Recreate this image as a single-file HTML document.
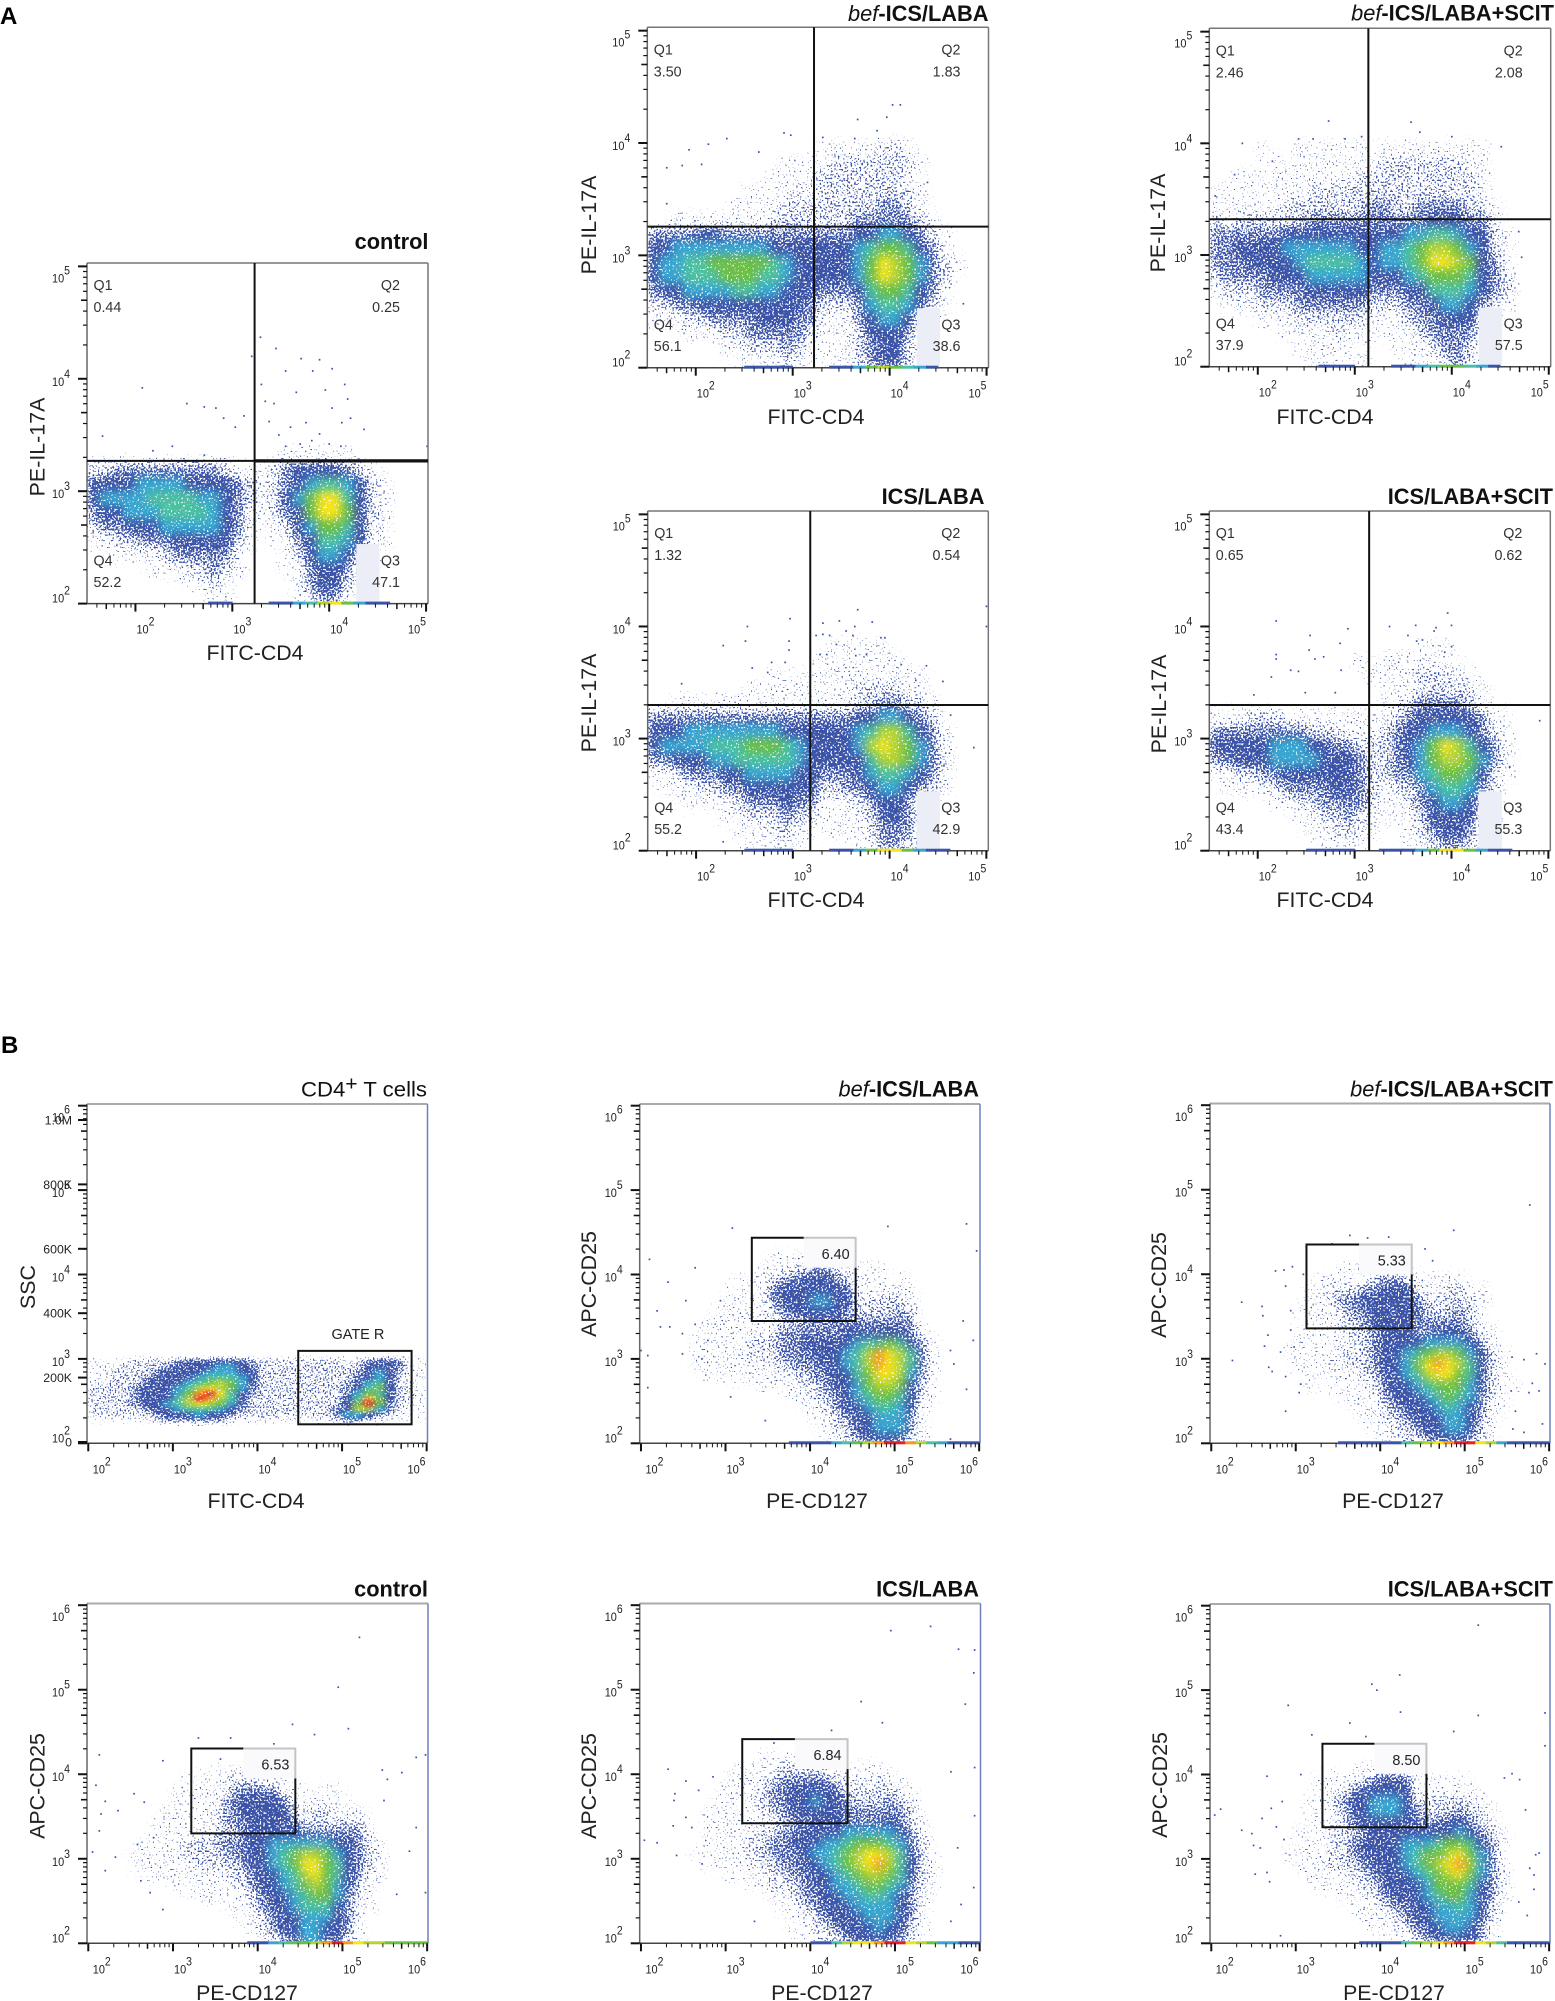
<!DOCTYPE html>
<html lang="en">
<head>
<meta charset="utf-8">
<title>Flow cytometry density plots</title>
<style>
html,body{margin:0;padding:0;background:#fff;}
svg{display:block;}
text{font-family:"Liberation Sans",sans-serif;fill:#222;}
</style>
</head>
<body>
<svg id="figure" xmlns="http://www.w3.org/2000/svg" width="1555" height="2001" viewBox="0 0 1555 2001">
<defs>
<filter id="grain" x="-5%" y="-5%" width="110%" height="110%" color-interpolation-filters="sRGB">
<feGaussianBlur in="SourceGraphic" stdDeviation="4.5" result="soft"/>
<feTurbulence type="fractalNoise" baseFrequency="0.55" numOctaves="1" seed="7" result="noise"/>
<feDisplacementMap in="soft" in2="noise" scale="8" xChannelSelector="R" yChannelSelector="G" result="moved"/>
<feColorMatrix in="moved" values="0 0 0 0 0 0 0 0 0 0 0 0 0 0 0 0 0 0 1 0" result="movedAlpha"/>
<feColorMatrix in="noise" values="0 0 0 0 0 0 0 0 0 0 0 0 0 0 0 0 0 1 0 0" result="noiseAlpha"/>
<feComposite in="movedAlpha" in2="noiseAlpha" operator="arithmetic" k1="0" k2="1" k3="2.6" k4="-1.8" result="sum"/>
<feComponentTransfer in="sum" result="mask"><feFuncA type="linear" slope="6"/></feComponentTransfer>
<feColorMatrix in="moved" values="1 0 0 0 0 0 1 0 0 0 0 0 1 0 0 0 0 0 30 0" result="solid"/>
<feComposite in="solid" in2="mask" operator="in"/>
</filter>
<filter id="grainFine" x="-5%" y="-5%" width="110%" height="110%" color-interpolation-filters="sRGB">
<feGaussianBlur in="SourceGraphic" stdDeviation="3.4 2" result="soft"/>
<feTurbulence type="fractalNoise" baseFrequency="0.6" numOctaves="1" seed="11" result="noise"/>
<feDisplacementMap in="soft" in2="noise" scale="4" xChannelSelector="R" yChannelSelector="G" result="moved"/>
<feColorMatrix in="moved" values="0 0 0 0 0 0 0 0 0 0 0 0 0 0 0 0 0 0 1 0" result="movedAlpha"/>
<feColorMatrix in="noise" values="0 0 0 0 0 0 0 0 0 0 0 0 0 0 0 0 0 1 0 0" result="noiseAlpha"/>
<feComposite in="movedAlpha" in2="noiseAlpha" operator="arithmetic" k1="0" k2="1" k3="2.6" k4="-1.8" result="sum"/>
<feComponentTransfer in="sum" result="mask"><feFuncA type="linear" slope="6"/></feComponentTransfer>
<feColorMatrix in="moved" values="1 0 0 0 0 0 1 0 0 0 0 0 1 0 0 0 0 0 30 0" result="solid"/>
<feComposite in="solid" in2="mask" operator="in"/>
</filter>
</defs>
<text x="0" y="24" font-size="24" font-weight="bold" style="fill:#000">A</text>
<text x="1" y="1053" font-size="24" font-weight="bold" style="fill:#000">B</text>
</svg>
<script>
// All data values are in log10 units of the plotted fluorescence intensity.
// Density rows run from the top of the grid downward; each number is a density level (0 = empty, 11 = peak).
const minorMultipliers = [2,3,4,5,6,7,8,9];
const xDecadesA = [2,3,4,5];
const yDecadesA = [2,3,4,5];
const xDecadesB = [2,3,4,5,6];
const yDecadesB = [2,3,4,5,6];
const sscValues = [0,200,400,600,800,1000];
const sscLabels = ["0","200K","400K","600K","800K","1.0M"];

const statsControlA = ["0.44","0.25","47.1","52.2"];
const statsBefA = ["3.50","1.83","38.6","56.1"];
const statsBefScitA = ["2.46","2.08","57.5","37.9"];
const statsIcsA = ["1.32","0.54","42.9","55.2"];
const statsIcsScitA = ["0.65","0.62","55.3","43.4"];

const quadControlA = [3.23,3.27];
const quadBefA = [3.22,3.256];
const quadBefScitA = [3.14,3.32];
const quadIcsA = [3.18,3.30];
const quadIcsScitA = [3.15,3.30];

const densityControlA = [
[],
[],
[],
[],
[],
[0,0,0,0,0,0,0,0,0,0,0,0,0,0,0,0,1,1,1,1,1,1],
[2,2,3,3,3,3,3,3,3,3,3,2,1,1,1,2,3,4,4,4,4,3,2,1],
[4,4,4,4,5,5,5,5,4,4,4,4,3,2,1,2,3,4,5,6,6,5,4,2,1],
[4,5,5,5,5,6,6,6,6,5,5,4,3,2,1,2,4,5,7,9,9,6,4,2,1],
[3,4,4,5,5,5,6,6,6,6,5,4,3,1,1,2,3,4,7,9,9,7,4,2,1],
[2,3,3,4,4,4,5,5,5,5,5,4,3,1,0,1,2,4,5,7,7,6,4,2,1],
[1,1,2,2,3,3,3,4,4,4,4,4,2,1,0,1,1,3,4,6,6,5,4,1,1],
[0,0,1,1,1,1,2,3,3,3,3,3,1,0,0,0,1,2,4,5,5,4,2,1],
[0,0,0,0,0,1,1,1,2,2,3,2,1,0,0,0,1,1,3,4,4,3,1,1],
[0,0,0,0,0,0,0,0,1,1,2,1,0,0,0,0,0,1,3,4,4,2,1],
[0,0,0,0,0,0,0,0,0,0,1,1,0,0,0,0,0,1,2,3,3,1]
];
const densityBefA = [
[0,0,0,0,0,0,0,0,0,0,0,0,0,0,1,1,1,1,1,2,2,1],
[0,0,0,0,0,0,0,0,0,0,0,1,1,1,1,2,2,2,2,2,2,2,1],
[0,0,0,0,0,0,0,0,0,0,1,1,1,1,2,2,2,2,2,2,2,1],
[0,0,0,0,0,0,0,0,1,1,1,1,2,1,2,2,2,2,2,2,2,2,1],
[0,0,0,0,0,0,0,1,1,1,1,2,2,2,2,2,2,2,2,3,3,2,1],
[0,0,1,1,1,1,1,1,1,1,2,2,2,2,2,2,2,3,3,3,3,3,2,1],
[3,3,3,3,4,4,3,3,3,3,3,3,3,3,3,3,3,4,4,5,5,4,3,2,1],
[4,4,5,5,5,5,5,5,5,5,4,4,4,4,4,4,4,5,6,7,7,6,4,3,1],
[4,5,5,6,6,7,7,7,7,7,6,5,4,4,4,4,4,5,7,9,8,7,5,3,2,1],
[4,5,5,6,6,6,7,7,7,6,6,5,4,4,4,4,4,5,7,9,8,7,5,3,2],
[3,4,4,5,5,5,5,6,6,5,5,4,4,4,3,3,3,4,6,7,7,6,4,3,1],
[2,2,3,3,4,4,4,4,4,4,4,4,4,3,2,2,2,3,5,6,6,5,4,2,1],
[1,1,1,2,2,3,3,3,3,4,4,4,3,3,1,1,1,3,4,5,5,4,1],
[0,0,0,1,1,1,2,2,3,3,3,3,3,2,1,1,1,2,4,4,4,3,1],
[0,0,0,0,0,0,1,1,2,2,2,3,2,1,1,1,1,2,3,4,4,2,1],
[0,0,0,0,0,0,0,1,1,1,1,2,1,1,0,1,1,2,3,4,4,2,1]
];
const densityBefScitA = [
[0,0,0,0,1,0,0,1,1,1,1,1,1,0,1,1,1,1,1,1,1,1,1],
[0,0,0,0,0,1,1,1,1,1,1,1,1,1,2,2,2,2,2,2,2,1,1],
[0,0,1,1,1,1,1,1,1,1,1,1,2,2,2,2,2,2,2,2,2,2,1],
[1,1,1,1,1,1,1,1,2,2,2,2,2,2,2,2,2,2,2,2,2,2,1],
[1,1,1,1,1,1,2,2,2,2,2,2,2,3,3,2,2,3,3,3,3,2,2,1],
[2,1,2,2,2,2,2,2,3,3,3,3,3,3,3,3,3,3,4,4,4,3,3,1],
[3,3,3,3,3,3,4,4,4,4,4,4,4,4,4,4,5,5,6,6,5,4,4,2,1],
[3,3,4,4,4,4,5,5,5,5,5,5,4,4,5,5,6,7,8,8,7,5,4,2,1],
[3,3,3,4,4,4,4,5,6,6,6,6,5,4,5,5,6,7,9,9,8,7,4,3,1],
[2,3,3,3,3,4,4,4,5,5,5,5,5,4,4,4,5,6,7,7,7,6,4,3,2],
[1,2,2,2,3,3,3,3,4,4,4,4,4,3,3,3,4,4,6,6,6,5,4,3,2],
[0,1,1,1,2,2,2,3,3,3,3,3,3,2,2,2,3,3,4,5,5,4,3,2,1],
[0,0,0,0,1,1,1,2,2,2,2,2,2,1,1,1,2,3,3,4,4,4,1,1],
[0,0,0,0,0,0,1,1,1,1,2,1,1,1,1,1,1,2,3,3,3,3,1],
[0,0,0,0,0,0,0,1,1,1,1,1,1,0,0,1,1,1,2,3,3,2,1],
[0,0,0,0,0,0,0,0,1,1,1,0,1,0,0,0,1,1,1,2,3,2,1]
];
const densityIcsA = [
[],
[0,0,0,0,0,0,0,0,0,0,0,0,0,0,0,1,1,1,1,1],
[0,0,0,0,0,0,0,0,0,0,0,0,0,0,1,1,1,1,1,1,1],
[0,0,0,0,0,0,0,0,0,0,1,0,1,1,1,1,1,1,1,1,1,1,1],
[0,0,0,0,0,0,0,0,1,1,1,1,1,1,1,1,1,2,2,2,2,1,1],
[0,0,1,1,1,1,1,1,1,1,1,1,1,1,1,1,1,2,2,3,3,2,2,1],
[3,3,3,3,3,3,3,3,3,3,3,3,3,3,3,3,3,4,4,5,5,4,3,2],
[4,4,4,5,5,5,5,5,5,5,5,4,4,4,4,4,4,5,6,8,8,6,4,3,1],
[4,5,5,5,5,6,6,6,7,7,7,6,5,4,4,4,4,5,8,9,8,7,5,3,1],
[3,3,4,4,4,5,5,6,6,6,6,6,5,4,4,4,4,4,6,8,8,7,5,3,2],
[1,1,2,3,3,3,4,4,5,5,5,5,4,4,3,3,3,4,5,6,6,5,4,3,1],
[0,1,1,1,2,2,3,3,4,4,4,4,4,4,2,2,3,3,4,5,5,4,3,2,1],
[0,0,0,1,1,1,1,2,3,3,3,4,3,3,1,1,1,2,3,4,4,3,1,1],
[0,0,0,0,0,0,1,1,2,2,2,3,2,2,1,1,1,1,2,4,4,3,1],
[0,0,0,0,0,0,0,1,1,1,2,2,1,1,0,1,1,1,2,3,3,3,1],
[0,0,0,0,0,0,0,0,1,1,1,1,1,0,0,0,0,1,1,3,3,2,1]
];
const densityIcsScitA = [
[],
[0,0,0,0,0,0,0,0,0,0,0,0,0,0,0,0,0,1,1,1],
[0,0,0,0,0,0,0,0,0,0,0,0,1,0,1,1,1,1,1,1,1],
[0,0,0,0,0,0,0,0,0,0,0,0,0,1,1,1,1,2,2,2,1,1],
[0,0,0,0,0,0,0,0,0,0,0,0,0,0,0,1,1,2,2,2,2,2,1],
[0,0,0,0,0,0,0,0,0,0,0,0,0,0,1,1,2,3,3,3,3,2,1],
[1,1,1,2,2,2,1,1,1,1,1,1,1,1,1,2,3,4,4,4,4,4,3,1,1],
[3,3,3,3,3,3,3,3,2,2,2,1,1,1,2,3,4,4,5,5,5,4,3,2,1],
[4,4,4,4,4,5,5,5,4,4,3,3,2,2,2,3,4,5,7,9,8,6,4,3,1],
[3,3,4,4,4,5,5,5,5,4,4,4,3,2,2,3,4,5,7,8,8,7,5,3,1],
[1,1,2,2,3,3,4,4,4,4,4,4,3,2,2,3,3,5,6,7,7,6,4,2,1],
[0,1,1,1,1,2,3,3,3,3,4,4,3,2,1,2,2,3,5,6,6,5,3,2],
[0,0,0,0,0,1,1,2,2,3,3,3,3,2,1,1,2,3,4,5,5,4,2,1],
[0,0,0,0,0,0,0,1,1,2,2,3,2,1,1,1,1,2,4,4,4,4,1,1],
[0,0,0,0,0,0,0,0,1,1,2,2,1,1,0,0,1,2,3,4,4,3,1],
[0,0,0,0,0,0,0,0,0,1,1,1,1,0,0,0,1,1,2,3,3,2,1]
];

const outliersControlA = [[3.29,4.37],[3.45,4.27],[3.2,4.2],[3.71,4.18],[3.9,4.17],[4.03,4.09],[3.83,4.07],[3.55,4.07],[2.07,3.92],[2.53,3.78],[2.71,3.75],[2.83,3.74],[1.66,3.49],[3.12,3.67],[2.91,3.65],[3.03,3.57],[3.34,3.8],[3.43,3.78],[3.66,3.88],[3.96,3.9],[4.16,3.95],[4.19,3.82],[4.03,3.74],[4.22,3.65],[4.13,3.61],[4.36,3.55],[3.76,3.61],[3.6,3.57],[3.9,3.51],[5.01,3.4],[2.71,3.32],[2.38,3.4],[2.18,3.36],[3.3,3.95],[3.38,3.62],[3.48,3.5],[3.82,3.45],[4.0,3.42],[4.12,3.4],[3.7,3.42],[3.55,3.4]];
const outliersBefA = [[4.03,4.34],[4.11,4.34],[3.97,4.23],[3.67,4.21],[2.91,4.09],[2.32,4.04],[2.98,4.07],[2.13,3.99],[3.31,4.05],[3.64,4.04],[3.87,4.11],[1.93,3.94],[2.65,3.92],[1.7,3.78],[1.86,3.8],[2.06,3.81],[1.7,3.46],[4.39,3.65],[4.76,2.57],[4.56,2.86]];
const outliersBefScitA = [[2.73,4.2],[3.58,4.19],[1.84,4.0],[2.42,4.04],[2.57,4.04],[2.9,4.04],[3.07,4.06],[3.67,4.1],[4.0,4.06],[4.51,3.97],[1.76,3.72],[2.15,3.84],[1.56,3.53],[4.69,3.21],[4.72,2.98]];
const outliersIcsA = [[2.97,4.07],[2.53,4.0],[2.28,3.83],[2.51,3.87],[2.96,3.87],[2.96,3.79],[3.67,4.15],[3.48,4.05],[3.31,4.03],[3.82,4.04],[3.64,4.0],[3.55,3.96],[3.62,3.92],[3.91,3.9],[3.95,3.9],[3.31,3.93],[3.24,3.92],[3.38,3.92],[3.45,3.84],[3.35,3.75],[3.28,3.75],[3.65,3.74],[3.76,3.75],[2.78,3.68],[2.92,3.68],[4.38,3.65],[4.12,3.66],[4.27,3.52],[4.55,3.51],[2.58,3.63],[2.74,3.59],[5.0,4.18],[5.0,4.0],[4.87,2.92],[2.28,2.08],[4.63,3.21],[1.85,3.49]];
const outliersIcsScitA = [[2.19,4.05],[3.96,4.12],[4.0,4.01],[3.63,4.01],[3.36,4.0],[3.84,3.99],[3.82,3.96],[2.93,3.98],[2.54,3.92],[2.85,3.85],[2.53,3.79],[2.19,3.75],[2.19,3.71],[2.59,3.71],[2.68,3.73],[3.55,3.92],[3.64,3.87],[3.7,3.88],[4.0,3.82],[3.93,3.77],[2.14,3.55],[2.34,3.61],[2.42,3.6],[1.96,3.39],[2.49,3.41],[2.8,3.41],[2.86,3.61],[4.91,3.16],[4.6,2.75]];

const pileControlA = [0,0,0,0,0,0,0,0,0,0,3,3,0,0,0,3,4,5,6,8,9,7,5,4,3];
const pileBefA = [0,0,0,0,0,0,0,0,3,3,3,3,0,0,0,3,4,5,7,8,7,6,5,4];
const pileBefScitA = [0,0,0,0,0,0,0,0,0,3,3,3,0,0,0,3,4,5,6,7,7,6,5,4];
const pileIcsA = [0,0,0,0,0,0,0,0,3,3,3,3,0,0,0,3,4,5,7,9,9,7,5,4,3];
const pileIcsScitA = [0,0,0,0,0,0,0,0,3,3,3,3,0,0,3,3,4,5,7,9,9,7,5,4,3];

const gateControlB = [3.216,4.444,3.30,4.305];
const gateBefB = [3.311,4.539,3.449,4.435];
const gateBefScitB = [3.127,4.373,3.359,4.352];
const gateIcsB = [3.196,4.44,3.42,4.415];
const gateIcsScitB = [3.316,4.547,3.375,4.364];
const gateCd4R = [4.482,5.822,2.225,3.095];
const gatePercentControlB = "6.53";
const gatePercentBefB = "6.40";
const gatePercentBefScitB = "5.33";
const gatePercentIcsB = "6.84";
const gatePercentIcsScitB = "8.50";

const densityControlB = [
[],
[],
[],
[0,0,0,0,0,0,0,0,0,0,0,0,1,1],
[0,0,0,0,0,0,0,0,0,1,1,1,1,2,2,2,1,1],
[0,0,0,0,0,0,0,0,1,1,1,1,1,2,3,3,3,3,1,1,1,0,1,1],
[0,0,0,0,0,0,0,0,1,1,1,1,2,3,4,4,4,4,3,1,1,1,1,1],
[0,0,0,0,0,0,0,1,1,1,1,1,2,3,4,4,4,4,4,2,1,2,2,1,1,1],
[0,0,0,0,0,0,1,1,1,1,1,1,2,3,3,4,4,4,4,3,2,2,2,2,2,2],
[0,0,0,0,0,0,1,1,1,1,1,1,2,2,3,4,4,4,4,4,3,3,3,3,3,3,1],
[0,0,0,0,0,1,1,1,1,2,2,2,3,3,3,4,4,5,5,5,5,5,5,4,4,3,2,1],
[0,0,0,0,1,1,1,1,1,2,2,2,2,3,3,4,4,5,6,7,8,8,7,5,4,3,2,1],
[0,0,0,0,1,1,1,1,1,1,2,2,2,2,3,4,4,5,6,7,9,9,7,6,4,3,2,1],
[0,0,0,0,0,1,1,1,1,1,1,1,1,2,2,3,4,4,5,6,8,9,7,6,4,3,1,1],
[0,0,0,0,0,0,0,0,1,0,1,1,1,1,2,3,4,4,5,6,7,8,7,5,4,2,1],
[0,0,0,0,0,0,0,0,0,0,1,1,1,1,1,2,3,4,4,5,6,7,7,5,3,2,1],
[0,0,0,0,0,0,0,0,0,0,0,0,0,1,1,2,3,4,4,5,6,6,6,4,3,1,1],
[0,0,0,0,0,0,0,0,0,0,0,0,0,0,1,1,2,3,4,4,5,5,5,4,3,1],
[0,0,0,0,0,0,0,0,0,0,0,0,0,0,0,1,2,3,4,4,5,5,4,4,3,1],
[0,0,0,0,0,0,0,0,0,0,0,0,0,0,0,0,1,2,3,4,5,5,4,4,2,1]
];
const densityBefB = [
[],
[],
[0,0,0,0,0,0,0,0,0,0,0,0,1,1,1,1,1,1,1],
[0,0,0,0,0,0,0,0,0,0,0,1,1,1,2,2,3,3,2,1,1,1,1],
[0,0,0,0,0,0,0,0,0,1,1,1,2,3,3,4,4,4,3,2,1,1,1,1,1],
[0,0,0,0,0,0,0,0,1,1,1,1,3,4,4,4,4,4,4,4,1,1,1,1,1,1],
[0,0,0,0,0,0,0,0,1,1,1,1,3,4,4,4,5,5,4,4,2,2,2,2,2,1],
[0,0,0,0,0,0,0,1,1,1,1,1,2,3,4,4,4,4,4,3,2,2,2,2,3,2],
[0,0,0,0,0,0,1,1,1,1,1,1,1,2,2,3,3,3,3,3,3,3,3,3,3,3],
[0,0,0,0,0,1,1,1,1,1,1,1,2,3,3,3,3,3,3,4,4,4,4,4,4,3,1],
[0,0,0,0,0,1,1,1,1,1,2,2,2,3,3,4,4,4,4,4,5,6,6,7,6,4,3,1],
[0,0,0,0,0,1,1,1,1,1,2,2,2,3,3,3,4,4,4,5,6,8,10,9,8,6,3,1],
[0,0,0,0,0,1,1,1,1,1,1,1,2,2,3,3,3,4,4,5,6,8,10,9,8,6,3,1],
[0,0,0,0,0,0,1,1,1,1,1,1,1,1,2,2,3,3,4,4,6,7,9,9,8,5,3,1],
[0,0,0,0,0,0,0,0,0,0,0,1,1,1,1,2,2,3,4,4,5,7,8,8,7,4,2,1],
[0,0,0,0,0,0,0,0,0,0,0,0,0,0,1,1,2,2,3,4,5,6,7,7,6,4,2,1],
[0,0,0,0,0,0,0,0,0,0,0,0,0,0,0,1,1,2,3,4,4,5,6,6,5,4,1],
[0,0,0,0,0,0,0,0,0,0,0,0,0,0,0,0,1,1,2,3,4,4,5,5,5,3,1],
[0,0,0,0,0,0,0,0,0,0,0,0,0,0,0,0,0,1,2,2,4,4,5,5,5,3,1],
[0,0,0,0,0,0,0,0,0,0,0,0,0,0,0,0,0,1,1,2,3,4,4,4,4,2,1]
];
const densityBefScitB = [
[],
[],
[],
[0,0,0,0,0,0,0,0,0,0,0,0,1,1,1,1,1,1,1],
[0,0,0,0,0,0,0,0,0,0,1,1,1,1,1,2,3,3,2,1,1,1,1,1],
[0,0,0,0,0,0,0,0,0,1,1,2,2,2,3,3,4,4,4,2,1,1,2,2,1,1],
[0,0,0,0,0,0,0,0,0,1,1,2,3,3,4,4,4,4,4,3,2,2,2,2,2,1],
[0,0,0,0,0,0,0,0,1,1,1,1,2,3,3,4,4,4,4,4,2,2,2,3,2,1],
[0,0,0,0,0,0,0,0,0,1,1,1,2,2,3,4,4,4,4,3,3,3,3,3,2,1],
[0,0,0,0,0,0,0,0,1,1,1,1,1,2,2,3,4,4,4,3,3,4,4,4,3,1,1],
[0,0,0,0,0,0,0,0,1,1,1,1,1,2,2,3,4,4,4,4,5,5,5,5,4,3,1],
[0,0,0,0,0,0,0,1,1,1,1,1,2,2,2,3,4,4,5,6,7,8,8,7,5,4,2,1],
[0,0,0,0,0,0,0,0,1,1,1,1,1,2,2,3,4,4,5,7,9,10,9,8,6,4,2,1],
[0,0,0,0,0,0,0,0,1,1,1,1,1,1,2,2,4,4,5,6,8,9,9,7,6,4,2,1],
[0,0,0,0,0,0,0,0,0,1,0,1,1,1,1,2,3,4,4,5,6,7,7,7,5,4,2,1,1],
[0,0,0,0,0,0,0,0,0,0,0,0,1,1,1,1,3,4,4,4,5,6,7,6,5,3,2,1],
[0,0,0,0,0,0,0,0,0,0,0,0,0,1,1,1,2,3,4,4,4,5,6,5,4,3,1,1],
[0,0,0,0,0,0,0,0,0,0,0,0,0,0,1,1,2,2,3,4,4,4,5,5,4,3,1],
[0,0,0,0,0,0,0,0,0,0,0,0,0,0,0,1,1,2,2,3,4,4,5,5,4,2,1],
[0,0,0,0,0,0,0,0,0,0,0,0,0,0,0,0,1,1,2,2,3,4,4,4,3,2,1]
];
const densityIcsB = [
[],
[],
[0,0,0,0,0,0,0,0,0,0,0,1,1,1,1,1,1,1],
[0,0,0,0,0,0,0,0,0,1,1,1,1,2,2,2,2,1,1,0,1,1,1],
[0,0,0,0,0,0,0,0,1,1,1,1,2,3,3,3,3,3,2,1,1,1,2,1,1],
[0,0,0,0,0,0,0,0,1,1,1,2,3,3,4,4,4,4,3,2,2,2,2,2,1,1],
[0,0,0,0,0,0,0,1,1,1,1,2,3,3,4,4,5,4,4,3,2,2,2,3,2,1],
[0,0,0,0,0,0,1,1,1,1,1,2,2,3,4,4,4,4,4,3,3,3,3,3,3,2],
[0,0,0,0,0,0,1,1,1,1,1,1,2,2,3,3,4,4,4,3,3,3,3,4,3,2,1],
[0,0,0,0,0,0,1,1,1,1,1,2,2,3,3,4,4,4,4,5,5,5,5,5,4,3,1],
[0,0,0,0,0,0,1,1,1,1,2,2,3,3,4,4,4,5,5,6,7,7,7,6,5,3,2],
[0,0,0,0,0,1,1,1,1,1,2,2,3,3,3,4,5,5,6,7,8,9,9,8,6,4,2,1],
[0,0,0,0,0,0,1,1,1,1,1,2,2,3,3,4,4,5,6,7,8,9,10,8,6,4,2,1],
[0,0,0,0,0,0,0,0,1,1,1,1,2,2,3,3,4,4,5,6,7,8,8,7,6,4,2,1],
[0,0,0,0,0,0,0,0,0,0,1,1,2,2,2,3,4,4,5,5,6,7,7,6,5,3,2,1],
[0,0,0,0,0,0,0,0,0,0,0,0,1,1,2,3,3,4,4,5,5,6,6,5,4,3,1],
[0,0,0,0,0,0,0,0,0,0,0,0,0,1,1,2,3,4,4,4,5,5,5,5,4,3,1],
[0,0,0,0,0,0,0,0,0,0,0,0,0,0,1,1,2,3,4,4,4,5,5,5,4,3,1],
[0,0,0,0,0,0,0,0,0,0,0,0,0,0,1,1,2,2,3,4,4,4,5,4,4,2,1],
[0,0,0,0,0,0,0,0,0,0,0,0,0,0,0,1,1,2,2,3,4,4,4,4,3,2]
];
const densityIcsScitB = [
[],
[],
[],
[0,0,0,0,0,0,0,0,0,0,0,0,0,0,1,1,1,1,1],
[0,0,0,0,0,0,0,0,0,0,1,1,1,1,2,3,4,4,3,1,1,1,0,1],
[0,0,0,0,0,0,0,0,0,0,1,1,1,3,4,4,4,4,4,1,1,1,1,1,1],
[0,0,0,0,0,0,0,0,0,1,1,2,3,4,4,5,5,5,4,2,2,2,2,2,2,1],
[0,0,0,0,0,0,0,0,0,1,1,1,2,4,4,5,5,5,4,3,2,2,2,3,2,2,1],
[0,0,0,0,0,0,0,0,0,1,1,1,2,3,4,4,4,4,4,3,3,3,4,4,3,2,1],
[0,0,0,0,0,0,0,0,1,1,1,1,2,2,3,4,4,4,4,4,4,4,4,5,4,3,2,1],
[0,0,0,0,0,0,0,0,1,1,1,2,2,3,4,4,4,4,5,5,5,6,7,7,6,4,3,1],
[0,0,0,0,0,0,0,1,1,1,1,2,2,3,4,4,4,4,5,6,7,7,8,9,7,5,3,1],
[0,0,0,0,0,0,0,0,1,1,1,2,2,2,3,4,4,4,5,6,7,8,9,10,8,5,3,1],
[0,0,0,0,0,0,0,0,0,1,1,1,1,2,2,3,4,4,4,5,6,7,8,9,7,5,3,2],
[0,0,0,0,0,0,0,0,0,0,1,1,1,1,2,2,4,4,4,4,5,7,7,7,6,4,3,1],
[0,0,0,0,0,0,0,0,0,0,0,0,1,1,1,2,3,4,4,4,5,6,7,7,5,4,3,1],
[0,0,0,0,0,0,0,0,0,0,0,0,0,1,1,1,2,3,3,4,4,5,5,6,5,4,2,1],
[0,0,0,0,0,0,0,0,0,0,0,0,0,0,1,1,1,2,3,4,4,5,5,5,5,4,2],
[0,0,0,0,0,0,0,0,0,0,0,0,0,0,0,1,1,1,2,3,4,4,5,5,4,3,1],
[0,0,0,0,0,0,0,0,0,0,0,0,0,0,0,0,0,1,1,2,3,4,4,4,4,3,1]
];
const densityCd4 = [
[1,1,1,1,2,2,2,2,3,4,4,4,4,4,4,3,2,2,2,2,2,2,2,2,1,2,3,4,4,3,1,1],
[1,1,1,2,2,2,2,3,4,4,4,4,5,5,4,3,2,2,2,2,2,2,2,2,2,2,4,4,4,3,1,1],
[1,1,2,2,2,2,3,4,4,4,4,5,5,5,4,4,2,2,2,2,2,2,2,2,2,3,4,5,4,2,1,1],
[1,1,2,2,2,3,3,4,4,4,5,6,6,6,5,4,2,2,2,2,2,2,2,2,2,3,4,5,4,2,1,1],
[1,1,2,2,2,3,4,4,4,5,6,7,8,7,5,4,2,2,2,2,2,2,2,2,2,4,5,6,4,2,1,1],
[2,2,2,2,3,4,4,4,5,6,8,9,8,7,5,3,2,2,2,2,2,2,2,2,3,4,6,7,4,2,2,1],
[2,2,2,2,3,4,4,4,5,7,10,11,9,6,4,3,2,2,2,2,2,2,2,2,3,5,7,6,4,2,2,1],
[2,2,2,2,3,4,4,4,6,8,11,10,8,6,4,2,2,2,2,2,2,2,2,2,4,6,10,7,4,2,2,1],
[2,2,2,2,3,4,4,5,6,8,9,8,7,5,4,2,2,2,2,2,2,2,2,2,4,7,11,7,3,2,1,1],
[2,2,2,2,2,3,4,4,5,6,6,6,5,4,3,2,2,2,2,2,2,2,2,3,4,8,8,5,3,2,1,1],
[2,2,2,2,1,2,3,4,4,4,5,4,4,3,2,2,2,2,2,2,2,2,2,3,5,5,4,3,2,1,1,1],
[1,1,1,1,1,1,2,3,3,3,3,3,3,2,1,1,1,1,1,1,1,1,1,2,3,3,2,1,1,1,0,1]
];

const outliersControlB = [[5.2,5.62],[4.95,5.03],[4.41,4.59],[5.07,4.54],[4.67,4.47],[3.3,4.43],[3.68,4.43],[4.19,4.36],[2.13,4.23],[2.88,4.16],[3.56,4.18],[2.54,3.77],[2.66,3.67],[2.2,3.68],[2.09,3.87],[5.47,4.05],[5.7,4.02],[5.87,4.2],[5.98,4.23],[5.53,3.94],[2.15,3.53],[2.35,3.57],[2.13,3.33],[2.58,3.17],[2.32,3.02],[2.05,3.08],[2.77,3.25],[5.49,3.69],[5.87,3.37],[5.79,3.09],[5.98,2.6],[5.64,2.58],[2.73,2.6],[2.88,2.4],[2.2,2.86],[2.62,2.74]];
const outliersBefB = [[4.92,4.57],[3.08,4.55],[5.85,4.6],[5.97,4.28],[2.1,4.18],[2.32,3.91],[2.64,4.08],[2.53,3.69],[2.94,3.69],[2.23,3.38],[2.34,3.38],[2.49,3.3],[2.19,3.57],[2.0,3.1],[2.08,3.04],[2.49,3.06],[2.72,3.0],[2.64,3.41],[2.79,3.22],[2.08,2.66],[3.06,2.55],[3.47,2.27],[5.66,3.1],[5.81,3.45],[5.93,3.22],[5.85,2.64],[5.66,2.05],[5.7,2.94]];
const outliersBefScitB = [[5.77,4.82],[4.87,4.52],[3.64,4.46],[3.85,4.43],[4.1,4.44],[4.53,4.3],[3.43,4.36],[4.62,4.16],[2.76,4.04],[2.86,4.05],[2.96,4.09],[3.09,4.0],[2.36,3.67],[2.6,3.62],[2.61,3.51],[2.94,3.57],[2.88,3.86],[2.94,3.34],[2.67,3.28],[2.63,3.15],[2.98,3.14],[2.25,2.98],[2.68,2.9],[2.72,2.85],[2.88,2.79],[2.82,3.08],[3.06,2.7],[3.04,2.6],[2.88,2.38],[5.7,2.99],[5.85,3.06],[5.95,2.94],[5.56,3.02],[5.8,2.71],[5.88,2.62],[5.76,2.6],[5.55,2.62],[5.6,2.38],[5.92,2.23],[5.7,2.13],[5.57,2.17]];
const outliersIcsB = [[4.95,5.7],[5.42,5.75],[5.75,5.48],[5.94,5.47],[5.93,5.2],[5.83,4.83],[4.6,4.86],[4.85,4.61],[4.25,4.52],[3.57,4.37],[2.32,4.06],[2.53,3.92],[2.85,3.97],[2.68,3.81],[2.4,3.77],[2.39,3.69],[5.66,4.03],[5.94,4.08],[5.94,3.51],[2.04,3.22],[2.19,3.19],[2.38,3.39],[2.53,3.49],[2.6,3.37],[2.42,3.04],[2.72,2.94],[5.74,3.13],[5.78,2.46],[5.93,2.66],[3.34,2.26],[5.66,2.26]];
const outliersIcsScitB = [[5.16,5.77],[4.23,5.18],[3.9,5.07],[3.96,5.0],[5.16,4.7],[2.91,4.82],[4.24,4.74],[3.64,4.61],[4.87,4.51],[3.19,4.47],[3.83,4.45],[5.95,4.34],[5.95,4.73],[2.66,3.98],[3.06,4.0],[2.11,3.59],[2.04,3.52],[2.71,3.6],[2.84,3.68],[2.6,3.48],[2.36,3.34],[2.77,3.38],[2.48,3.3],[2.86,3.23],[2.5,3.16],[2.58,3.13],[2.52,2.82],[2.66,2.84],[2.69,2.73],[5.47,3.96],[5.56,4.01],[5.65,3.94],[5.72,3.58],[5.84,3.05],[5.88,3.07],[5.77,2.89],[5.82,2.81],[5.82,2.64],[5.64,2.49],[5.74,2.33],[2.82,2.09]];
const outliersCd4 = [];

const pileControlB = [0,0,0,0,0,0,0,0,0,0,0,0,0,0,0,3,4,5,6,7,7,8,10,11,10,9,8,8,7,7,7,7];
const pileBefB = [0,0,0,0,0,0,0,0,0,0,0,0,0,0,3,3,3,4,5,6,7,8,10,11,11,10,8,6,5,4,4,4];
const pileBefScitB = [0,0,0,0,0,0,0,0,0,0,0,0,3,3,3,3,3,4,6,7,8,9,10,11,11,9,8,5,4,4,4,4];
const pileIcsB = [0,0,0,0,0,0,0,0,0,0,0,0,0,0,0,0,3,4,6,8,9,9,10,11,11,9,8,7,5,5,4,4];
const pileIcsScitB = [0,0,0,0,0,0,0,0,0,0,0,0,0,0,3,3,3,4,6,7,8,9,10,11,11,9,8,6,4,4,4,4];
const pileCd4 = [];

const levelColors = ["none","#3c54a8","#3c54a8","#3c54a8","#3c54a8","#39a6d0","#4cc0a0","#6cbe45","#b4d334","#f4e41c","#f79a1c","#e4202a"];
const levelAlpha = [0,0.1,0.33,0.62,0.88,1,1,1,1,1,1,1];

const NS = 'http://www.w3.org/2000/svg';
const fig = document.getElementById('figure');
function mk(parent, tag, attrs, txt){
  const e = document.createElementNS(NS, tag);
  for (const k in attrs) e.setAttribute(k, attrs[k]);
  if (txt !== undefined) e.textContent = txt;
  parent.appendChild(e);
  return e;
}
const layoutA = {xDomain:[1.5,5.02],yDomain:[2,5.03],grid:{xLo:1.5,dx:0.125,yHi:4,dy:0.125},xDec:xDecadesA,yDec:yDecadesA};
const layoutB = {xDomain:[1.985,6.01],yDomain:[2,6.02],grid:{xLo:2,dx:0.125,yHi:4.5,dy:0.125},xDec:xDecadesB,yDec:yDecadesB};

const panels = [
 {id:'a-control',base:layoutA,L:87,R:428,T:263,B:603.6,title:['','control'],titleR:428.5,titleY:249,xT:'FITC-CD4',xTx:255,xTy:660,yT:'PE-IL-17A',yTx:44.5,yTy:447,density:densityControlA,outliers:outliersControlA,pile:pileControlA,quad:quadControlA,stats:statsControlA,thick:true},
 {id:'a-bef-ics-laba',base:layoutA,L:647.3,R:988.5,T:27.3,B:367.7,title:['bef','-ICS/LABA'],titleR:988.5,titleY:20.8,xT:'FITC-CD4',xTx:816,xTy:424,yT:'PE-IL-17A',yTx:596,yTy:225,density:densityBefA,outliers:outliersBefA,pile:pileBefA,quad:quadBefA,stats:statsBefA},
 {id:'a-bef-ics-laba-scit',base:layoutA,L:1209.3,R:1550.7,T:28.3,B:366.7,title:['bef','-ICS/LABA+SCIT'],titleR:1554,titleY:20.7,xT:'FITC-CD4',xTx:1325,xTy:424,yT:'PE-IL-17A',yTx:1165,yTy:223,density:densityBefScitA,outliers:outliersBefScitA,pile:pileBefScitA,quad:quadBefScitA,stats:statsBefScitA},
 {id:'a-ics-laba',base:layoutA,L:647.7,R:988.3,T:511,B:850.7,title:['','ICS/LABA'],titleR:984.5,titleY:504,xT:'FITC-CD4',xTx:816,xTy:907,yT:'PE-IL-17A',yTx:596,yTy:703,density:densityIcsA,outliers:outliersIcsA,pile:pileIcsA,quad:quadIcsA,stats:statsIcsA},
 {id:'a-ics-laba-scit',base:layoutA,L:1209.3,R:1550.3,T:511,B:850.7,title:['','ICS/LABA+SCIT'],titleR:1553,titleY:504,xT:'FITC-CD4',xTx:1325,xTy:907,yT:'PE-IL-17A',yTx:1166,yTy:704,density:densityIcsScitA,outliers:outliersIcsScitA,pile:pileIcsScitA,quad:quadIcsScitA,stats:statsIcsScitA},
 {id:'b-cd4',base:{...layoutB,grid:{xLo:2,dx:0.125,yHi:3,dy:0.0625}},fine:true,L:87,R:427.5,T:1104,B:1443.3,title:['','CD4'],titleR:427,titleY:1096.7,xT:'FITC-CD4',xTx:256,xTy:1508,yT:'SSC',yTx:35,yTy:1287,density:densityCd4,outliers:outliersCd4,pile:pileCd4,gate:gateCd4R,gateName:'GATE R'},
 {id:'b-bef-ics-laba',base:layoutB,L:639.7,R:980,T:1104,B:1443.3,title:['bef','-ICS/LABA'],titleR:979,titleY:1096.7,xT:'PE-CD127',xTx:817,xTy:1508,yT:'APC-CD25',yTx:596,yTy:1284,density:densityBefB,outliers:outliersBefB,pile:pileBefB,gate:gateBefB,pct:gatePercentBefB},
 {id:'b-bef-ics-laba-scit',base:layoutB,L:1210,R:1550,T:1103.5,B:1443.3,title:['bef','-ICS/LABA+SCIT'],titleR:1553,titleY:1096.7,xT:'PE-CD127',xTx:1393,xTy:1508,yT:'APC-CD25',yTx:1166,yTy:1285,density:densityBefScitB,outliers:outliersBefScitB,pile:pileBefScitB,gate:gateBefScitB,pct:gatePercentBefScitB},
 {id:'b-control',base:layoutB,L:87,R:428,T:1603.5,B:1943.3,title:['','control'],titleR:428,titleY:1596.7,xT:'PE-CD127',xTx:247,xTy:2000,yT:'APC-CD25',yTx:44.5,yTy:1786,density:densityControlB,outliers:outliersControlB,pile:pileControlB,gate:gateControlB,pct:gatePercentControlB},
 {id:'b-ics-laba',base:layoutB,L:639.7,R:980.5,T:1603.5,B:1943.3,title:['','ICS/LABA'],titleR:979,titleY:1596.7,xT:'PE-CD127',xTx:822,xTy:2000,yT:'APC-CD25',yTx:596,yTy:1786,density:densityIcsB,outliers:outliersIcsB,pile:pileIcsB,gate:gateIcsB,pct:gatePercentIcsB},
 {id:'b-ics-laba-scit',base:layoutB,L:1210,R:1550,T:1604,B:1943.3,title:['','ICS/LABA+SCIT'],titleR:1553,titleY:1596.7,xT:'PE-CD127',xTx:1394,xTy:2000,yT:'APC-CD25',yTx:1167,yTy:1785,density:densityIcsScitB,outliers:outliersIcsScitB,pile:pileIcsScitB,gate:gateIcsScitB,pct:gatePercentIcsScitB}
];

panels.forEach(function(p){
  const isA = p.id.charAt(0) === 'a';
  const b = p.base;
  const xScale = v => p.L + (v - b.xDomain[0]) / (b.xDomain[1] - b.xDomain[0]) * (p.R - p.L);
  const yScale = v => p.B - (v - b.yDomain[0]) / (b.yDomain[1] - b.yDomain[0]) * (p.B - p.T);
  const g = mk(fig, 'g', {});
  
  

  const clipId = 'clip-' + p.id;
  const cp = mk(fig.querySelector('defs'), 'clipPath', {id: clipId});
  mk(cp, 'rect', {x: p.L, y: p.T, width: p.R - p.L, height: p.B - p.T});

  // density heatmap
  const clipG = mk(g, 'g', {'clip-path': 'url(#' + clipId + ')'});
  const heat = mk(clipG, 'g', {filter: p.fine ? 'url(#grainFine)' : 'url(#grain)'});
  
  
  p.density.forEach(function(row, i){
    row.forEach(function(level, j){
      if (!level) return;
      const x0 = xScale(b.grid.xLo + j * b.grid.dx);
      const x1 = xScale(b.grid.xLo + (j + 1) * b.grid.dx);
      const y0 = yScale(b.grid.yHi - i * b.grid.dy);
      const y1 = yScale(b.grid.yHi - (i + 1) * b.grid.dy);
      const c = mk(heat, 'rect', {x: x0, y: y0, width: x1 - x0 + 0.3, height: y1 - y0 + 0.3, fill: levelColors[level], 'fill-opacity': levelAlpha[level]});
      
      
    });
  });

  // sparse events
  p.outliers.forEach(function(pt){
    const d = mk(clipG, 'rect', {x: xScale(pt[0]) - 0.8, y: yScale(pt[1]) - 0.8, width: 1.7, height: 1.7, fill: '#3c54a8'});
    
    
  });

  if (isA) {
    const ghost = mk(clipG, 'rect', {x: xScale(4.28), y: yScale(2.53), width: xScale(4.52) - xScale(4.28), height: yScale(2.02) - yScale(2.53), fill: '#eceef7'});
    
    
  }

  // frame
  const frameCol = isA ? '#777' : '#999';
  const ft = mk(g, 'line', {x1: p.L, x2: p.R, y1: p.T, y2: p.T, stroke: isA ? '#777' : '#aaa', 'stroke-width': isA ? 1.5 : 2});
  
  
  const fr = mk(g, 'line', {x1: p.R, x2: p.R, y1: p.T, y2: p.B, stroke: isA ? frameCol : '#6f80bd', 'stroke-width': 1.5});
  
  
  const fl = mk(g, 'line', {x1: p.L, x2: p.L, y1: p.T, y2: p.B, stroke: '#666', 'stroke-width': 1.5});
  
  
  const fb = mk(g, 'line', {x1: p.L, x2: p.R, y1: p.B, y2: p.B, stroke: '#444', 'stroke-width': 1.5});
  
  

  // bottom edge pile-up strip
  p.pile.forEach(function(level, j){
    if (!level) return;
    const x0 = xScale(b.grid.xLo + j * b.grid.dx);
    const x1 = xScale(b.grid.xLo + (j + 1) * b.grid.dx);
    const s = mk(g, 'rect', {x: x0, y: p.B - 2, width: x1 - x0 + 0.3, height: 3, fill: levelColors[level]});
    
    
  });

  // ticks
  for (let d = Math.floor(b.xDomain[0]); d <= b.xDomain[1]; d++) {
    [1].concat(minorMultipliers).forEach(function(m){
      const v = d + Math.log10(m);
      if (v < b.xDomain[0] || v > b.xDomain[1]) return;
      const x = xScale(v);
      const len = m === 1 ? 8 : (m === 5 ? 5.5 : 4);
      const t = mk(g, 'line', {x1: x, x2: x, y1: p.B, y2: p.B + len, stroke: '#111', 'stroke-width': m === 1 ? 2 : (m === 5 ? 1.5 : 1)});
      
      
    });
  }
  for (let d = Math.floor(b.yDomain[0]); d <= b.yDomain[1]; d++) {
    [1].concat(minorMultipliers).forEach(function(m){
      const v = d + Math.log10(m);
      if (v < b.yDomain[0] || v > b.yDomain[1]) return;
      const y = yScale(v);
      const len = m === 1 ? 9 : (m === 5 ? 6 : 4);
      const t = mk(g, 'line', {x1: p.L, x2: p.L - len, y1: y, y2: y, stroke: '#111', 'stroke-width': m === 1 ? 2 : (m === 5 ? 1.6 : 1.2)});
      
      
    });
  }

  // tick labels
  b.xDec.forEach(function(dec, idx){
    const x = xScale(dec);
    let lx = x + 1;
    if (idx === b.xDec.length - 1) lx = p.R - 20;
    else if (!isA && idx === 0) lx = x + 4.5;
    const t = mk(g, 'text', {x: lx, y: p.B + 30, 'font-size': 12, textLength: 18, lengthAdjust: 'spacingAndGlyphs'}, '10');
    mk(t, 'tspan', {dy: -8, 'font-size': 11.5}, String(dec));
    
    
  });
  b.yDec.forEach(function(dec, idx){
    const y = yScale(dec);
    let by = y + 7;
    if (idx === 0) by = y - 1;
    if (idx === b.yDec.length - 1) by = y + 16;
    const t = mk(g, 'text', {x: p.L - 35, y: by, 'font-size': 12, textLength: 18, lengthAdjust: 'spacingAndGlyphs'}, '10');
    mk(t, 'tspan', {dy: -8, 'font-size': 11.5}, String(dec));
    
    
  });

  // SSC secondary scale on the CD4 plot
  if (p.fine) {
    const sscY = v => 1442 - v * 0.322;
    sscValues.forEach(function(v, i){
      const y = sscY(v);
      const tk = mk(g, 'line', {x1: p.L, x2: p.L - 9, y1: y, y2: y, stroke: '#111', 'stroke-width': 2});
      
      
      const tl = mk(g, 'text', {x: 72, y: y + 4.5, 'font-size': 12.3, 'text-anchor': 'end'}, sscLabels[i]);
      
      
    });
  }

  // quadrant gates
  if (p.quad) {
    const qx = xScale(p.quad[0]), qy = yScale(p.quad[1]);
    const v = mk(g, 'line', {x1: qx, x2: qx, y1: p.T, y2: p.B, stroke: '#111', 'stroke-width': 2});
    
    
    const h = mk(g, 'line', {x1: p.L, x2: p.R, y1: qy, y2: qy, stroke: '#111', 'stroke-width': 2});
    
    
    if (p.thick) {
      const h2 = mk(g, 'line', {x1: qx, x2: p.R, y1: qy, y2: qy, stroke: '#111', 'stroke-width': 3.2});
      
      
    }
    const names = ['Q1','Q2','Q3','Q4'];
    const pos = [
      [p.L + 6.5, p.T + 27, p.T + 49, 'start'],
      [p.R - 28, p.T + 27, p.T + 49, 'end'],
      [p.R - 28, p.B - 38, p.B - 16.5, 'end'],
      [p.L + 6.5, p.B - 38, p.B - 16.5, 'start']
    ];
    names.forEach(function(n, i){
      const a = mk(g, 'text', {x: pos[i][0], y: pos[i][1], 'font-size': 14.3, 'text-anchor': pos[i][3], style: 'fill:#333'}, n);
      
      
      const c = mk(g, 'text', {x: pos[i][0], y: pos[i][2], 'font-size': 14.3, 'text-anchor': pos[i][3], style: 'fill:#333'}, p.stats[i]);
      
      
    });
  }

  // rectangle gates
  if (p.gate) {
    const gx0 = xScale(p.gate[0]), gx1 = xScale(p.gate[1]);
    const gy0 = yScale(p.gate[2]), gy1 = yScale(p.gate[3]);
    if (p.pct) {
      const mid = (gx0 + gx1) / 2;
      const shade = mk(g, 'rect', {x: mid, y: gy1, width: gx1 - mid, height: 30, fill: '#fafafd'});
      
      
      const gr = mk(g, 'path', {d: 'M' + mid + ' ' + gy1 + 'H' + gx1 + 'V' + (gy1 + 30), fill: 'none', stroke: '#c4c4c4', 'stroke-width': 2});
      
      
      const gb = mk(g, 'path', {d: 'M' + mid + ' ' + gy1 + 'H' + gx0 + 'V' + gy0 + 'H' + gx1 + 'V' + (gy1 + 30), fill: 'none', stroke: '#111', 'stroke-width': 2});
      
      
      const lb = mk(g, 'text', {x: gx1 - 20, y: gy1 + 21, 'font-size': 14.4, 'text-anchor': 'middle', style: 'fill:#222'}, p.pct);
      
      
    } else {
      const gb = mk(g, 'rect', {x: gx0, y: gy1, width: gx1 - gx0, height: gy0 - gy1, fill: 'none', stroke: '#111', 'stroke-width': 2});
      
      
      const lb = mk(g, 'text', {x: (gx0 + gx1) / 2 + 3, y: gy1 - 12, 'font-size': 14.5, 'text-anchor': 'middle'}, p.gateName);
      
      
    }
  }

  // titles
  const title = mk(g, 'text', {x: p.titleR, y: p.titleY, 'font-size': p.fine ? 21 : 21.8, 'text-anchor': 'end', 'font-weight': p.fine ? 'normal' : 'bold', style: 'fill:#111'});
  
  
  if (p.title[0]) mk(title, 'tspan', {'font-style': 'italic', 'font-weight': 'normal'}, p.title[0]);
  mk(title, 'tspan', {}, p.title[1]);
  if (p.fine) {
    mk(title, 'tspan', {dy: -6, 'font-size': 20}, '+');
    mk(title, 'tspan', {dy: 6}, ' T cells');
    title.setAttribute('textLength', '126');
    title.setAttribute('lengthAdjust', 'spacingAndGlyphs');
  }
  const xt = mk(g, 'text', {x: p.xTx, y: p.xTy, 'font-size': 21.3, 'text-anchor': 'middle'}, p.xT);
  
  
  const yt = mk(g, 'text', {x: p.yTx, y: p.yTy, 'font-size': 21.4, 'text-anchor': 'middle', transform: 'rotate(-90 ' + p.yTx + ' ' + p.yTy + ')'}, p.yT);
  
  
});
</script>
</body>
</html>
